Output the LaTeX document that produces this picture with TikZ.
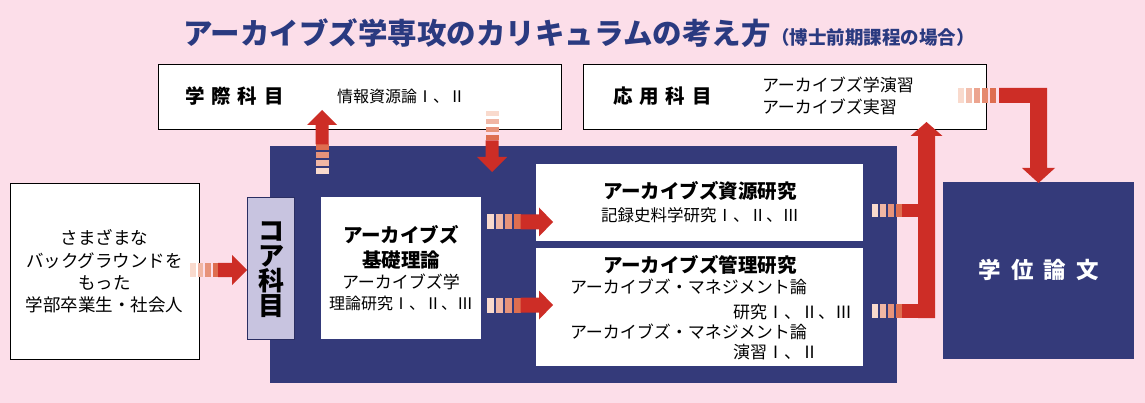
\documentclass[tikz,border=0pt]{standalone}
\usepackage{fontspec}
\setmainfont{Noto Sans CJK JP}
\definecolor{pinkbg}{RGB}{252,222,233}
\definecolor{navy}{RGB}{52,58,122}
\definecolor{titleblue}{RGB}{42,58,128}
\definecolor{lavender}{RGB}{200,196,224}
\definecolor{arrowred}{RGB}{205,45,38}
\definecolor{stripeA}{RGB}{249,218,205}
\definecolor{stripeB}{RGB}{222,110,80}
\tikzset{
  wbox/.style={draw=black, line width=0.8pt, fill=white, inner sep=0pt, outer sep=0pt},
  plainbox/.style={fill=white, inner sep=0pt, outer sep=0pt},
  navybox/.style={fill=navy, inner sep=0pt, outer sep=0pt},
  corebox/.style={fill=lavender, draw=navy!80!black, line width=0.8pt, inner sep=0pt, outer sep=0pt},
  txt/.style={inner sep=0pt, outer sep=0pt, font=\fontsize{17}{21}\selectfont},
  btxt/.style={inner sep=0pt, outer sep=0pt, font=\bfseries\fontsize{19.5}{24}\selectfont},
}
\newcommand\hstripes[6]{%
  \foreach \i in {1,...,#4}{%
    \pgfmathtruncatemacro\pc{100*(\i-1)/(#4-1)}%
    \fill[stripeB!\pc!stripeA] ({#1+(\i-1)*#5},{#2-#3}) rectangle ++(#6,{2*#3});
  }}
\newcommand\vstripes[7]{%
  \foreach \i in {1,...,#4}{%
    \pgfmathtruncatemacro\pc{100*(\i-1)/(#4-1)}%
    \fill[stripeB!\pc!stripeA] ({#1-#3},{#2+(#7)*(\i-1)*#5}) rectangle ++({2*#3},{(#7)*#6});
  }}
\newcommand\rarrow[6]{\fill[arrowred] (#1,{#4-#5}) -- (#2,{#4-#5}) -- (#2,{#4-#6}) -- (#3,#4) -- (#2,{#4+#6}) -- (#2,{#4+#5}) -- (#1,{#4+#5}) -- cycle;}
\newcommand\varrow[6]{\fill[arrowred] ({#4-#5},#1) -- ({#4-#5},#2) -- ({#4-#6},#2) -- (#4,#3) -- ({#4+#6},#2) -- ({#4+#5},#2) -- ({#4+#5},#1) -- cycle;}
\newcommand\gap[1]{\hspace{#1pt}}
\begin{document}
\begin{tikzpicture}[x=1pt,y=-1pt]
\useasboundingbox (0,0) rectangle (1145,403);
\fill[pinkbg] (0,0) rectangle (1145,403);

% title
\node[anchor=west, inner sep=0pt, text=titleblue, font=\bfseries\fontsize{29.5}{34}\selectfont] (title) at (183,33) {アーカイブズ学専攻のカリキュラムの考え方};
\node[anchor=west, inner sep=0pt, text=titleblue, font=\bfseries\fontsize{18.5}{20}\selectfont] (subtitle) at (771,37) {（博士前期課程の場合）};

% top boxes
\node[wbox, minimum width=403pt, minimum height=65pt] (gakusai) at (359.5,96.5) {};
\node[btxt, anchor=west] (gakusaiT) at (185,96) {学\gap{7}際\gap{7}科\gap{7}目};
\node[txt, anchor=west, font=\fontsize{16}{20}\selectfont] (gakusaiS) at (337,96) {情報資源論Ⅰ、Ⅱ};

\node[wbox, minimum width=403pt, minimum height=65pt] (oyo) at (784.5,96.5) {};
\node[btxt, anchor=west] (oyoT) at (613,96) {応\gap{7}用\gap{7}科\gap{7}目};
\node[txt, anchor=west, align=left, font=\fontsize{17}{22}\selectfont] (oyoS) at (762,96) {アーカイブズ学演習\\アーカイブズ実習};

% main navy block
\node[navybox, minimum width=627pt, minimum height=237pt] (main) at (583.5,264.5) {};

% left box
\node[wbox, minimum width=189pt, minimum height=176pt] (bg) at (104.5,271) {};
\node[txt, align=center, font=\fontsize{17.5}{22.4}\selectfont] (bgT) at (104.5,271.5) {さまざまな\\バックグラウンドを\\もった\\学部卒業生・社会人};

% core
\node[corebox, minimum width=47pt, minimum height=142pt] (core) at (270.5,268) {};
\node[inner sep=0pt, align=center, font=\bfseries\fontsize{26}{25}\selectfont] (coreT) at (271,269.5) {コ\\ア\\科\\目};

% basic theory
\node[plainbox, minimum width=160pt, minimum height=142pt] (basic) at (401,268) {};
\node[btxt] (basicT1) at (401,235) {アーカイブズ};
\node[btxt] (basicT2) at (401,260) {基礎理論};
\node[txt] (basicT3) at (401,282) {アーカイブズ学};
\node[txt, font=\fontsize{16}{20}\selectfont] (basicT4) at (401,303) {理論研究Ⅰ、Ⅱ、Ⅲ};

% resource research
\node[plainbox, minimum width=327pt, minimum height=77pt] (res) at (699.5,202.5) {};
\node[btxt] (resT) at (700,191) {アーカイブズ資源研究};
\node[txt, font=\fontsize{16.5}{20}\selectfont] (resS) at (700,215) {記録史料学研究Ⅰ、Ⅱ、Ⅲ};

% management research
\node[plainbox, minimum width=327pt, minimum height=118pt] (man) at (699.5,307) {};
\node[btxt] (manT) at (700,265) {アーカイブズ管理研究};
\node[txt, anchor=west] (manS1) at (570,287) {アーカイブズ・マネジメント論};
\node[txt, anchor=west] (manS2) at (733,312) {研究Ⅰ、Ⅱ、Ⅲ};
\node[txt, anchor=west] (manS3) at (570,332) {アーカイブズ・マネジメント論};
\node[txt, anchor=west] (manS4) at (733,352) {演習Ⅰ、Ⅱ};

% thesis
\node[navybox, minimum width=191pt, minimum height=177pt] (thesis) at (1038.5,270.5) {};
\node[inner sep=0pt, text=white, font=\bfseries\fontsize{22.5}{26}\selectfont] (thesisT) at (1038.5,270) {学\gap{10}位\gap{10}論\gap{10}文};

% arrows
% background -> core
\hstripes{190}{270}{7}{4}{7.5}{5.5}
\rarrow{218}{232}{247}{270}{7}{15}
% main -> gakusai (up)
\vstripes{322}{174}{6.5}{4}{8}{5.5}{-1}
\varrow{144.5}{125}{110}{322}{6.5}{15}
% gakusai -> main (down)
\vstripes{492}{111}{6.5}{4}{8}{5.5}{1}
\varrow{140.5}{157}{172}{492}{6.5}{15}
% basic -> resource / management
\hstripes{487}{222}{7.5}{4}{9}{6.5}
\rarrow{520.5}{539}{553}{222}{7.5}{14.5}
\hstripes{487}{305}{7.5}{4}{9}{6.5}
\rarrow{520.5}{539}{553}{305}{7.5}{14.5}
% resource / management -> oyo
\hstripes{872}{211}{6.5}{4}{8}{5.5}
\fill[arrowred] (901.5,204.5) rectangle (935,217.5);
\hstripes{872}{311}{7}{4}{8}{5.5}
\fill[arrowred] (901.5,304) rectangle (935,318);
\varrow{318}{136}{122}{926.5}{8.5}{16}
% oyo -> thesis
\hstripes{958}{95.5}{7.5}{5}{8}{5.5}
\fill[arrowred] (999,88) -- (1047,88) -- (1047,168) -- (1055,168) -- (1038.5,183) -- (1022,168) -- (1030,168) -- (1030,103) -- (999,103) -- cycle;
\end{tikzpicture}
\end{document}
